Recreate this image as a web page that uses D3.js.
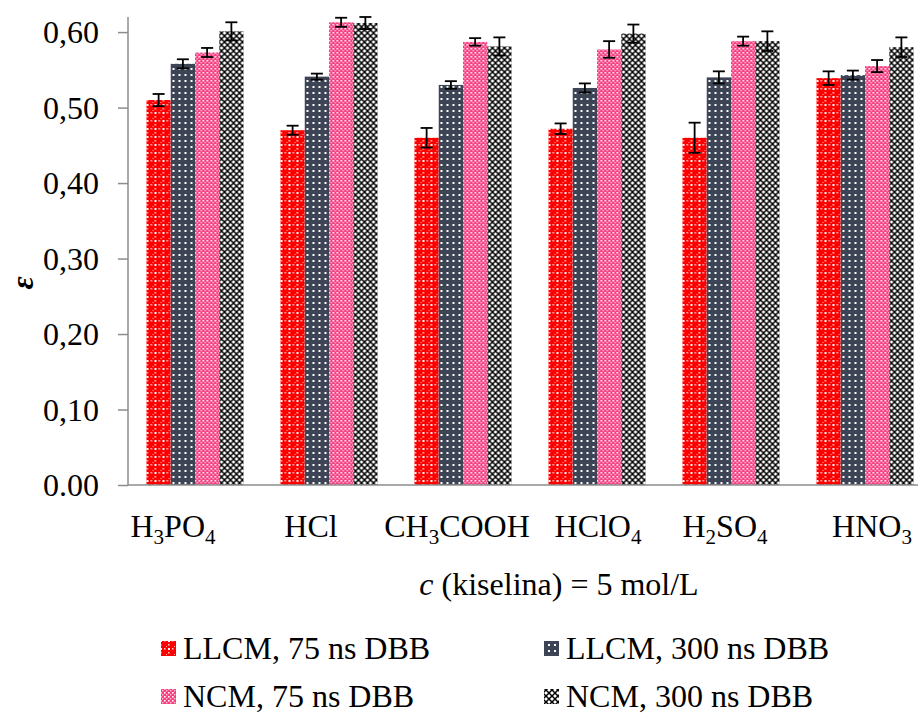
<!DOCTYPE html>
<html><head><meta charset="utf-8">
<script src="https://cdn.jsdelivr.net/npm/d3@7"></script>
<style>
html,body{margin:0;padding:0;background:#fff;overflow:hidden}
svg{font-family:"Liberation Serif","Times New Roman",serif;}
svg text{font-family:"Liberation Serif","Times New Roman",serif;}
</style>
</head><body>
<svg id="chart" width="918" height="713"></svg>
<script>
// ---- data ----
const categories = ["H3PO4", "HCl", "CH3COOH", "HClO4", "H2SO4", "HNO3"];
const seriesNames = ["LLCM, 75 ns DBB", "LLCM, 300 ns DBB", "NCM, 75 ns DBB", "NCM, 300 ns DBB"];
const llcm75 = [0.510, 0.470, 0.460, 0.472, 0.460, 0.539];
const llcm300 = [0.558, 0.541, 0.530, 0.526, 0.540, 0.543];
const ncm75 = [0.573, 0.613, 0.587, 0.577, 0.588, 0.555];
const ncm300 = [0.601, 0.612, 0.581, 0.598, 0.588, 0.580];
const err_llcm75 = [0.008, 0.006, 0.013, 0.007, 0.020, 0.009];
const err_llcm300 = [0.006, 0.004, 0.005, 0.006, 0.008, 0.006];
const err_ncm75 = [0.006, 0.006, 0.005, 0.011, 0.006, 0.008];
const err_ncm300 = [0.012, 0.008, 0.012, 0.012, 0.013, 0.013];
const yTicks = [0, 0.1, 0.2, 0.3, 0.4, 0.5, 0.6];
const yTickLabels = ["0.00", "0,10", "0,20", "0,30", "0,40", "0,50", "0,60"];
const yMax = 0.62;
const xTitle = ["c", " (kiselina) = 5 mol/L"];
const yTitle = "ε";

const values = [llcm75, llcm300, ncm75, ncm300];
const errors = [err_llcm75, err_llcm300, err_ncm75, err_ncm300];

// ---- layout ----
const FONT = "'Liberation Serif','Times New Roman',serif";
const FS = 32;
const pLeft = 128, pRight = 932, pTop = 17, pBottom = 485;
const labelDx = [-22, -18, -6, 1, -6, 7];

const svg = d3.select("#chart");
const defs = svg.append("defs");

// patterns
function pat(id, size, bg, draw) {
  const p = defs.append("pattern").attr("id", id).attr("patternUnits", "userSpaceOnUse")
    .attr("width", size).attr("height", size);
  p.append("rect").attr("width", size).attr("height", size).attr("fill", bg);
  draw(p);
}
function px(p, x, yy, w, c) { p.append("rect").attr("x", x).attr("y", yy).attr("width", w).attr("height", w).attr("fill", c); }
pat("p0", 8, "#ff0000", p => {
  px(p, 0, 0, 2, "#fff"); px(p, 4, 0, 1.5, "#ffd0d0"); px(p, 0, 4, 1.5, "#ffd0d0");
  px(p, 6, 6, 1, "#ffb0b0");
});
pat("p1", 6, "#3c4456", p => { px(p, 2, 2, 2, "#fff"); });
pat("p2", 4, "#f73c80", p => {
  px(p, 0, 0, 1.6, "#fff"); px(p, 2, 2, 1.4, "#ffc8dc");
});
pat("p3", 6, "#ffffff", p => {
  p.append("path").attr("d", "M0,0L6,6M6,0L0,6").attr("stroke", "#000").attr("stroke-width", 1.5);
});
const fills = ["url(#p0)", "url(#p1)", "url(#p2)", "url(#p3)"];

// scales
const x0 = d3.scaleBand().domain(categories).range([pLeft, pRight]).paddingInner(0.276).paddingOuter(0.138);
const x1 = d3.scaleBand().domain(d3.range(seriesNames.length)).range([0, x0.bandwidth()]).padding(0);
const y = d3.scaleLinear().domain([0, yMax]).range([pBottom, pTop]);

// bars
const groups = svg.append("g").selectAll("g").data(categories).join("g")
  .attr("transform", d => `translate(${x0(d)},0)`);
groups.each(function (cat, ci) {
  const g = d3.select(this);
  seriesNames.forEach((s, si) => {
    const v = values[si][ci];
    g.append("rect").attr("x", x1(si)).attr("y", y(v)).attr("width", x1.bandwidth())
      .attr("height", y(0) - y(v)).attr("fill", fills[si]);
  });
  seriesNames.forEach((s, si) => {
    const v = values[si][ci], e = errors[si][ci];
    const cx = x1(si) + x1.bandwidth() / 2;
    const eg = g.append("g").attr("stroke", "#000").attr("stroke-width", 1.8).attr("fill", "none");
    eg.append("line").attr("x1", cx).attr("x2", cx).attr("y1", y(v + e)).attr("y2", y(v - e));
    eg.append("line").attr("x1", cx - 6).attr("x2", cx + 6).attr("y1", y(v + e)).attr("y2", y(v + e));
    eg.append("line").attr("x1", cx - 6).attr("x2", cx + 6).attr("y1", y(v - e)).attr("y2", y(v - e));
  });
});

// y axis
const yAxis = d3.axisLeft(y).tickValues(yTicks).tickSize(10).tickPadding(19)
  .tickFormat((d, i) => yTickLabels[i]);
const ya = svg.append("g").attr("transform", `translate(${pLeft},0)`).call(yAxis);
ya.attr("font-family", null).attr("font-size", null);
ya.select(".domain").attr("stroke", "#8c8c8c").attr("stroke-width", 1.5).attr("d", `M0,${pTop}V${pBottom}`);
ya.selectAll(".tick line").attr("stroke", "#8c8c8c").attr("stroke-width", 1.5);
ya.selectAll(".tick text").style("font-family", FONT).style("font-size", FS + "px").attr("fill", "#000").attr("dy", "0.34em");

// x axis line
svg.append("line").attr("x1", pLeft).attr("x2", 918).attr("y1", pBottom).attr("y2", pBottom)
  .attr("stroke", "#8c8c8c").attr("stroke-width", 1.5);

// category labels with subscripts
const catG = svg.append("g").style("font-size", FS + "px").attr("fill", "#000");
categories.forEach((c, i) => {
  const t = catG.append("text").attr("x", x0(c) + x0.bandwidth() / 2 + labelDx[i]).attr("y", 537)
    .attr("text-anchor", "middle");
  const parts = c.match(/[A-Za-z]+|\d+/g);
  parts.forEach((p, k) => {
    if (/^\d+$/.test(p)) {
      t.append("tspan").style("font-size", "21px").attr("dy", 7).text(p);
    } else {
      const ts = t.append("tspan").text(p);
      if (k > 0) ts.attr("dy", -7);
    }
  });
});

// x title
const xt = svg.append("text").attr("x", 559).attr("y", 595).attr("text-anchor", "middle")
  .style("font-size", FS + "px").attr("fill", "#000");
xt.append("tspan").style("font-style", "italic").text(xTitle[0]);
xt.append("tspan").text(xTitle[1]);

// y title
svg.append("text").attr("transform", "translate(33,283) rotate(-90)").attr("text-anchor", "middle")
  .style("font-size", FS + "px").style("font-weight", "bold").style("font-style", "italic")
  .attr("fill", "#000").text(yTitle);

// legend
const legPos = [[161, 641], [544, 641], [161, 689], [544, 689]];
const leg = svg.append("g").style("font-size", FS + "px").attr("fill", "#000");
seriesNames.forEach((s, i) => {
  const [lx, ly] = legPos[i];
  leg.append("rect").attr("x", lx).attr("y", ly).attr("width", 15).attr("height", 15).attr("fill", fills[i]);
  leg.append("text").attr("x", lx + 22).attr("y", ly + 18).text(s);
});
</script>
</body></html>
